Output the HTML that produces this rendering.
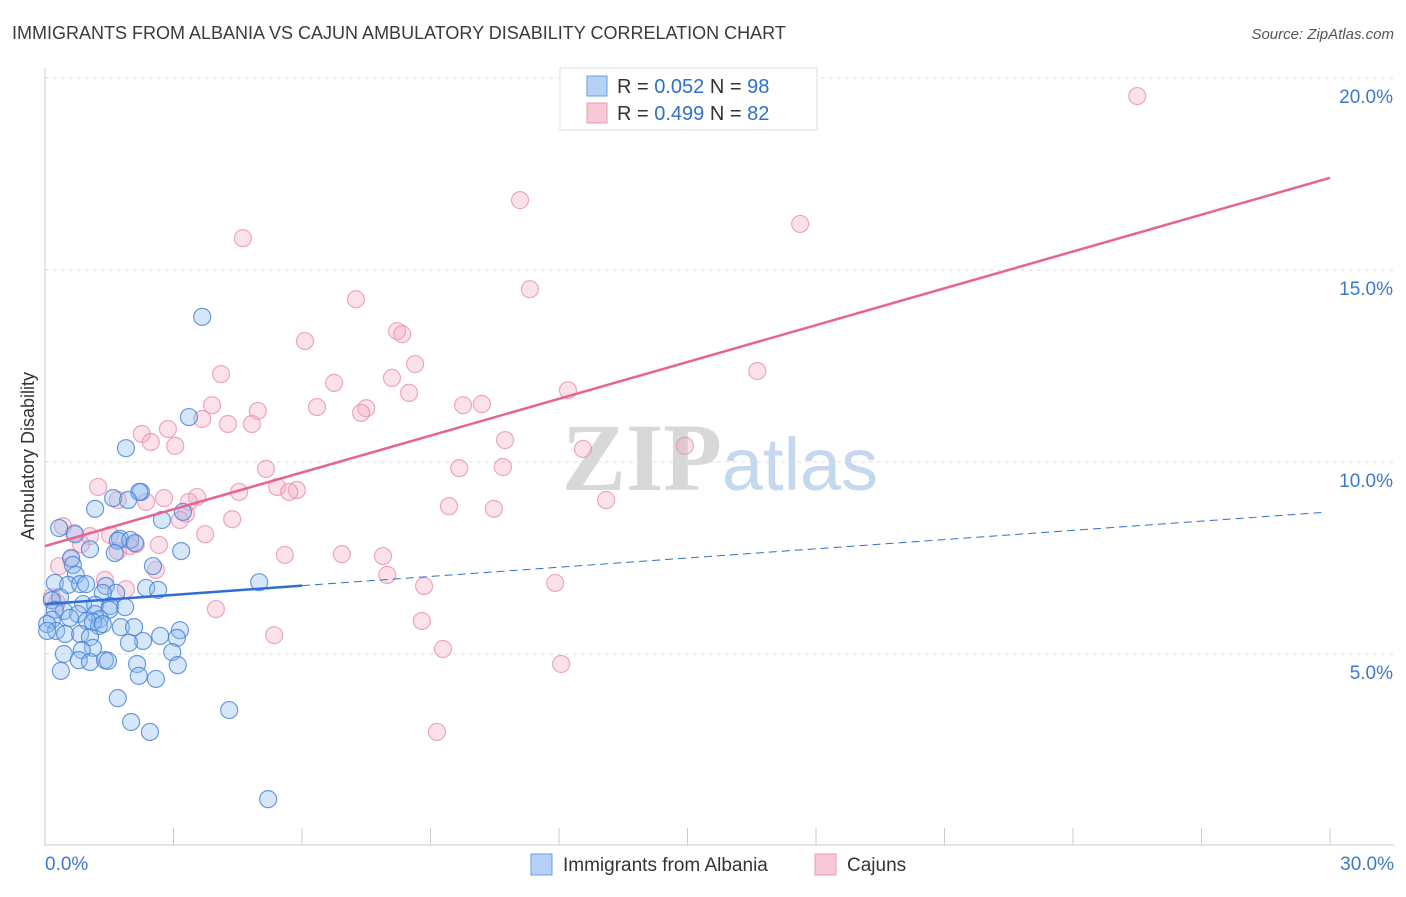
<!DOCTYPE html>
<html><head><meta charset="utf-8">
<style>
body{margin:0;background:#fff;font-family:"Liberation Sans",sans-serif;}
svg text{font-family:"Liberation Sans",sans-serif;}
</style></head>
<body>
<svg id="chart" width="1406" height="892" xmlns="http://www.w3.org/2000/svg">
<text x="12" y="39" font-size="18" fill="#3a3a3a">IMMIGRANTS FROM ALBANIA VS CAJUN AMBULATORY DISABILITY CORRELATION CHART</text>
<text x="1394" y="39" font-size="15" fill="#555" text-anchor="end" font-style="italic">Source: ZipAtlas.com</text>
<text x="720" y="490" font-size="96" text-anchor="middle"><tspan fill="#d8d8d8" font-family="Liberation Serif" font-weight="bold">ZIP</tspan><tspan fill="#c6d8ee" font-size="74">atlas</tspan></text>
<g id="grid"></g>
<g id="ticks"></g>
<text transform="translate(34,456) rotate(-90)" font-size="18" fill="#333" text-anchor="middle">Ambulatory Disability</text>
<g id="pts"></g>
<g id="lines"></g>
<g>
<rect x="560" y="68" width="257" height="62" fill="#fff" stroke="#ddd"/>
<rect x="587" y="76" width="20" height="20" fill="#b5d1f5" stroke="#6b9ee0"/>
<rect x="587" y="103" width="20" height="20" fill="#f8c8d8" stroke="#e898b4"/>
<text x="617" y="93" font-size="20" fill="#333">R = <tspan fill="#2f6fce">0.052</tspan>   N = <tspan fill="#2f6fce">98</tspan></text>
<text x="617" y="120" font-size="20" fill="#333">R = <tspan fill="#2f6fce">0.499</tspan>   N = <tspan fill="#2f6fce">82</tspan></text>
</g>
<g>
<rect x="531" y="854" width="21" height="21" fill="#b5d1f5" stroke="#6b9ee0"/>
<text x="563" y="871" font-size="19" fill="#333">Immigrants from Albania</text>
<rect x="815" y="854" width="21" height="21" fill="#f8c8d8" stroke="#e898b4"/>
<text x="847" y="871" font-size="19" fill="#333">Cajuns</text>
</g>
</svg>
<script>
const xTicks=[0,3,6,9,12,15,18,21,24,27,30];
const yTicks=[5,10,15,20];
const blueX=[3.67,3.36,1.89,2.24,2.20,1.59,1.94,1.17,2.73,3.22,0.33,0.70,1.75,1.70,1.99,2.1,3.18,1.05,1.63,0.61,0.65,0.72,2.52,5.0,0.23,0.54,0.82,0.96,1.42,2.36,2.64,1.66,1.35,0.35,0.16,0.89,1.17,1.52,1.87,1.5,0.44,0.23,0.77,1.17,1.28,0.98,0.58,0.16,0.05,1.26,1.12,1.35,1.77,2.08,0.26,0.47,0.82,1.05,0.05,2.69,3.15,3.08,2.29,1.96,1.12,0.86,0.44,2.97,0.79,1.05,1.4,1.47,2.15,3.1,0.37,2.19,2.59,1.7,4.3,2.01,2.45,5.21];
const blueY=[13.78,11.17,10.36,9.22,9.22,9.06,9.01,8.78,8.49,8.70,8.28,8.12,8.0,7.95,7.97,7.89,7.68,7.73,7.63,7.5,7.32,7.06,7.29,6.87,6.85,6.8,6.82,6.82,6.77,6.72,6.67,6.59,6.59,6.48,6.4,6.3,6.28,6.25,6.22,6.15,6.12,6.15,6.04,6.04,5.91,5.86,5.94,5.89,5.78,5.73,5.83,5.78,5.7,5.7,5.6,5.52,5.52,5.44,5.6,5.47,5.62,5.42,5.34,5.29,5.16,5.1,5.0,5.05,4.84,4.79,4.84,4.82,4.74,4.71,4.56,4.43,4.35,3.85,3.54,3.23,2.97,1.22];
const pinkX=[25.5,11.09,17.63,4.62,11.32,7.26,8.22,8.34,6.07,8.64,4.11,16.63,6.75,8.1,12.21,8.5,3.9,6.35,9.76,10.2,7.5,7.38,4.97,3.67,4.27,4.83,2.87,2.26,2.47,3.04,10.74,12.56,14.94,5.16,9.67,10.69,5.42,5.88,5.7,1.24,4.53,3.55,3.36,2.78,1.7,2.36,13.1,9.43,10.48,3.29,3.15,4.37,0.42,0.68,1.05,3.74,1.52,0.84,2.12,1.98,1.7,2.66,5.6,6.93,7.89,0.61,7.99,0.33,2.59,1.4,11.91,8.85,1.89,0.16,0.28,3.99,8.8,5.35,9.29,12.05,9.15];
const pinkY=[19.53,16.82,16.2,15.83,14.5,14.24,13.41,13.33,13.15,12.55,12.29,12.37,12.06,12.19,11.87,11.8,11.48,11.43,11.48,11.51,11.4,11.28,11.33,11.12,10.99,10.99,10.86,10.73,10.52,10.42,10.57,10.34,10.42,9.82,9.84,9.87,9.35,9.27,9.22,9.35,9.22,9.09,8.96,9.06,9.01,8.96,9.01,8.85,8.78,8.65,8.49,8.51,8.33,8.15,8.07,8.12,8.1,7.86,7.86,7.81,7.68,7.84,7.58,7.6,7.55,7.47,7.06,7.29,7.19,6.93,6.85,6.77,6.69,6.48,6.33,6.17,5.86,5.49,5.13,4.74,2.97];
const blueTrend=[6.30,8.70];
const pinkTrend=[7.81,17.4];
const blueSolidEnd=6.0;
const NS="http://www.w3.org/2000/svg";
const X=v=>45+v/30*1285, Y=v=>846-v*38.4;
function mk(tag,attrs,parent){const e=document.createElementNS(NS,tag);for(const k in attrs)e.setAttribute(k,attrs[k]);parent.appendChild(e);return e;}
const svg=document.getElementById('chart');
const grid=document.getElementById('grid'),ticks=document.getElementById('ticks');
for(const t of yTicks){
 const l=mk('line',{x1:45,x2:1394,y1:Y(t),y2:Y(t),stroke:'#ddd','stroke-dasharray':'4,4'},grid);
 
 
 const tx=mk('text',{x:1393,y:Y(t)+25,'font-size':19,fill:'#3d78d0','text-anchor':'end'},grid);
 tx.textContent=t.toFixed(1)+'%';
 
 
}
mk('line',{x1:45,x2:45,y1:68,y2:846,stroke:'#ccc'},grid);
mk('line',{x1:45,x2:1394,y1:845,y2:845,stroke:'#ccc'},grid);
for(const t of xTicks){
 const l=mk('line',{x1:X(t),x2:X(t),y1:828,y2:845,stroke:'#ccc'},ticks);
 
 
}
const xl=mk('text',{x:45,y:870,'font-size':19,fill:'#3d78d0'},ticks);xl.textContent='0.0%';


const xr=mk('text',{x:1394,y:870,'font-size':19,fill:'#3d78d0','text-anchor':'end'},ticks);xr.textContent='30.0%';


const pts=document.getElementById('pts');
pinkX.forEach((x,i)=>{const c=mk('circle',{cx:X(x),cy:Y(pinkY[i]),r:8.5,fill:'rgba(244,170,196,0.35)',stroke:'rgba(232,140,175,0.75)','stroke-width':1.2},pts);
 
 });
blueX.forEach((x,i)=>{const c=mk('circle',{cx:X(x),cy:Y(blueY[i]),r:8.5,fill:'rgba(140,185,240,0.35)',stroke:'rgba(70,130,215,0.8)','stroke-width':1.2},pts);
 
 });
const lines=document.getElementById('lines');
const bAt=v=>blueTrend[0]+(blueTrend[1]-blueTrend[0])*v/30;
const b1=mk('line',{x1:X(0),y1:Y(bAt(0)),x2:X(blueSolidEnd),y2:Y(bAt(blueSolidEnd)),stroke:'#2d6fd4','stroke-width':2.5},lines);


const b2=mk('line',{x1:X(blueSolidEnd),y1:Y(bAt(blueSolidEnd)),x2:X(29.9),y2:Y(bAt(29.9)),stroke:'#2d6fd4','stroke-width':1,'stroke-dasharray':'8,5'},lines);


const p1=mk('line',{x1:X(0),y1:Y(pinkTrend[0]),x2:X(30),y2:Y(pinkTrend[1]),stroke:'#e8638f','stroke-width':2.5},lines);


</script>
</body></html>
